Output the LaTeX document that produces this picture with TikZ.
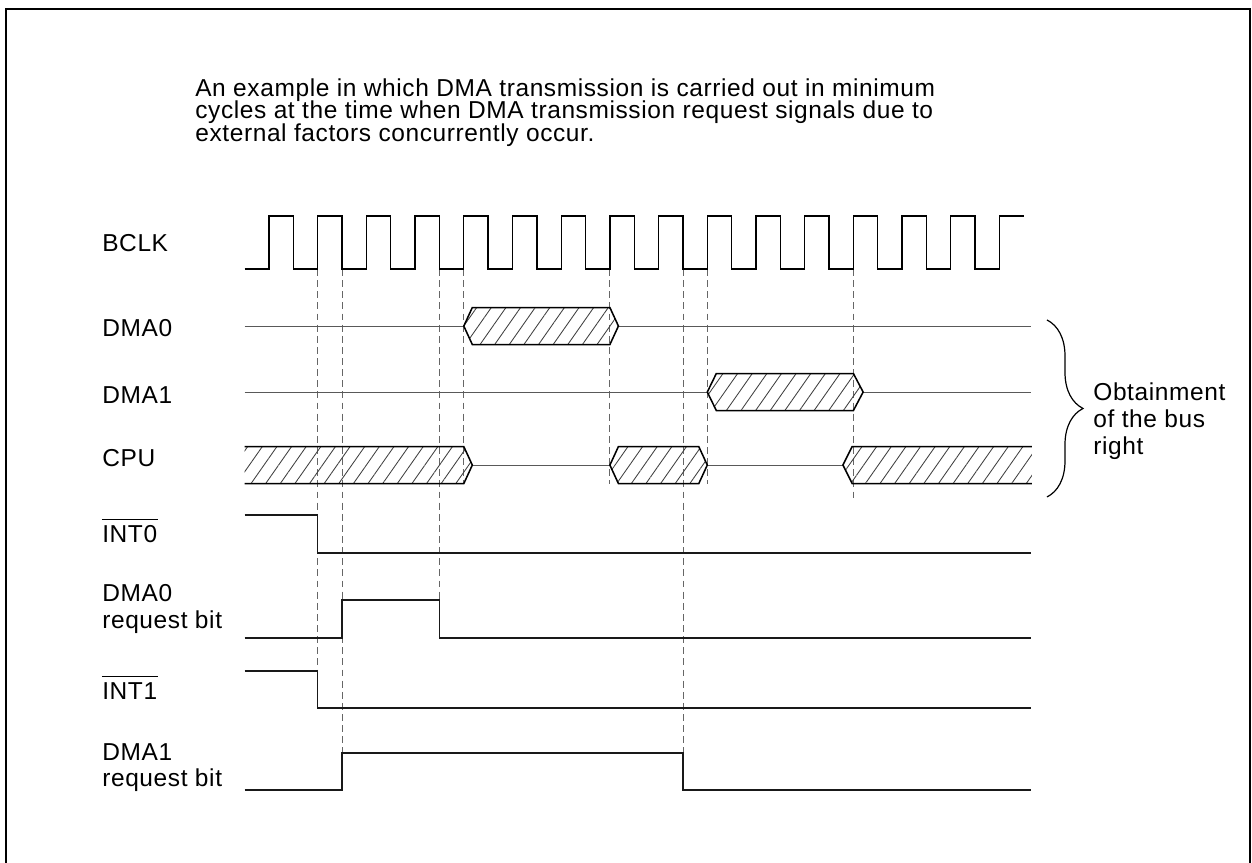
\documentclass[tikz,border=0pt]{standalone}
\usepackage{fontspec}
\setmainfont{Liberation Sans}[LetterSpace=2.5]
\usepackage{tikz}
\usetikzlibrary{patterns.meta, decorations.pathreplacing, calc}

\newcommand{\titlefont}{\fontsize{14.3}{13.3}\selectfont\setlength{\lineskiplimit}{-5pt}}

\tikzset{
    lbl/.style={anchor=base west, inner xsep=0pt, align=left, font=\fontsize{14.3}{15.6}\selectfont},
    sig/.style={line width=0.8pt, black!90},
    bus/.style={line width=0.5pt, black!65},
    guide/.style={line width=0.5pt, black!60, dash pattern=on 4pt off 2.5pt},
    hatch/.style={pattern={Lines[angle=55, distance=7pt, line width=0.5pt]}, pattern color=black!75},
    edge/.style={line width=0.9pt, line join=miter}
}

\begin{document}
\begin{tikzpicture}[x=0.5cm, y=0.5cm]
    \useasboundingbox (-11.047,0) rectangle (40.37,35.44);

    % Cornice
    \draw[line width=1.6pt] (-10.8,-1) -- (-10.8,35.07) -- (40.29,35.07) -- (40.29,-1);

    % Titolo (base = ultima riga)
    \node[lbl, font=\titlefont] (title) at (-3.04,29.62)
        {An example in which DMA transmission is carried out in minimum\\
         cycles at the time when DMA transmission request signals due to\\
         external factors concurrently occur.};

    % Etichette dei segnali
    \node[lbl] (bclk) at (-6.86,25.11) {BCLK};
    \node[lbl] (dma0) at (-6.86,21.61) {DMA0};
    \node[lbl] (dma1) at (-6.86,18.88) {DMA1};
    \node[lbl] (cpu) at (-6.86,16.28) {CPU};
    \node[lbl] (int0) at (-6.86,13.16) {INT0};
    \node[lbl] (dma0req) at (-6.86,9.64) {DMA0\\request bit};
    \node[lbl] (int1) at (-6.86,6.72) {INT1};
    \node[lbl] (dma1req) at (-6.86,3.13) {DMA1\\request bit};
    \draw[line width=0.6pt] (int0.north west) -- (int0.north east);
    \draw[line width=0.6pt] (int1.north west) -- (int1.north east);

    % Linee tratteggiate
    \foreach \t/\yb in {2/6.37, 3/4.52, 7/10.80, 8/15.56, 14/15.56, 17/4.52, 18/15.56, 24/14.9}{
        \draw[guide] (\t,24.39) -- (\t,\yb);
    }

    % Clock BCLK
    \draw[sig, black] (-1,24.39) foreach \k in {0,2,...,28}{
        -- (\k,24.39) -- (\k,26.57) -- (\k+1,26.57) -- (\k+1,24.39)}
        -- (30,24.39) -- (30,26.57) -- (31,26.57);

    % Bus: DMA0, DMA1, CPU
    \draw[bus] (-1,22.05) -- (8,22.05) (14.35,22.05) -- (31.3,22.05);
    \draw[bus] (-1,19.34) -- (18,19.34) (24.4,19.34) -- (31.3,19.34);
    \draw[bus] (8.35,16.34) -- (14,16.34) (18,16.34) -- (23.57,16.34);

    \draw[edge, hatch] (8,22.05) -- (8.35,22.81) -- (14,22.81) -- (14.35,22.05)
        -- (14,21.29) -- (8.35,21.29) -- cycle;
    \draw[edge, hatch] (18,19.34) -- (18.37,20.10) -- (24,20.10) -- (24.4,19.34)
        -- (24,18.58) -- (18.37,18.58) -- cycle;
    \draw[edge, hatch] (14,16.34) -- (14.35,17.10) -- (17.65,17.10) -- (18,16.34)
        -- (17.65,15.58) -- (14.35,15.58) -- cycle;
    \fill[hatch] (-1,17.10) -- (8,17.10) -- (8.35,16.34) -- (8,15.58) -- (-1,15.58) -- cycle;
    \draw[edge] (-1,17.10) -- (8,17.10) -- (8.35,16.34) -- (8,15.58) -- (-1,15.58);
    \fill[hatch] (31.33,17.10) -- (23.95,17.10) -- (23.57,16.34) -- (23.95,15.58) -- (31.33,15.58) -- cycle;
    \draw[edge] (31.33,17.10) -- (23.95,17.10) -- (23.57,16.34) -- (23.95,15.58) -- (31.33,15.58);

    % Segnali di interrupt e di richiesta
    \draw[sig] (-1,14.29) -- (2,14.29) -- (2,12.73) -- (31.3,12.73);
    \draw[sig] (-1,9.24) -- (3,9.24) -- (3,10.80) -- (7,10.80) -- (7,9.24) -- (31.3,9.24);
    \draw[sig] (-1,7.89) -- (2,7.89) -- (2,6.37) -- (31.3,6.37);
    \draw[sig] (-1,3.00) -- (3,3.00) -- (3,4.52) -- (17,4.52) -- (17,3.00) -- (31.3,3.00);

    % Graffa
    \draw[line width=0.7pt, decorate, decoration={brace, amplitude=0.74cm}]
        (31.95,22.30) -- (31.95,15.03);
    \node[lbl, font=\fontsize{14.3}{16}\selectfont] (busright) at (33.84,16.76)
        {Obtainment\\of the bus\\right};
\end{tikzpicture}
\end{document}
